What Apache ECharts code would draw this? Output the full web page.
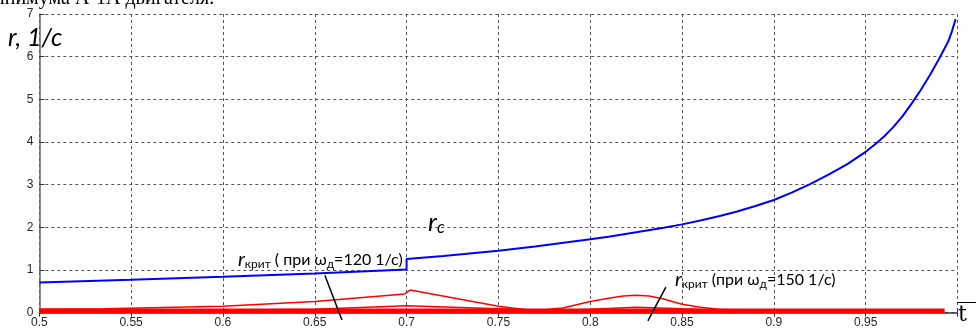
<!DOCTYPE html>
<html>
<head>
<meta charset="utf-8">
<script src="https://cdn.jsdelivr.net/npm/echarts@6/dist/echarts.min.js"></script>
<style>
html,body{margin:0;padding:0;background:#fff;}
#c{width:976px;height:329px;}
</style>
</head>
<body>
<div id="c"></div>
<script>
// ---- data ----
var xTicks = [0.5, 0.55, 0.6, 0.65, 0.7, 0.75, 0.8, 0.85, 0.9, 0.95, 1.0];
var yTicks = [0, 1, 2, 3, 4, 5, 6, 7];

// r_c (blue), including the jump at 0.7
var rcT = [0.5, 0.55, 0.6, 0.65, 0.7, 0.7, 0.72, 0.75, 0.77, 0.8, 0.81, 0.82, 0.83, 0.84, 0.85, 0.86, 0.87, 0.88, 0.89, 0.9, 0.91, 0.92, 0.93, 0.94, 0.95, 0.955, 0.96, 0.965, 0.97, 0.975, 0.98, 0.985, 0.99, 0.995, 0.997, 0.999];
var rcV = [0.71, 0.77, 0.84, 0.92, 1.01, 1.26, 1.33, 1.45, 1.55, 1.72, 1.78, 1.85, 1.92, 1.99, 2.07, 2.16, 2.26, 2.37, 2.5, 2.64, 2.82, 3.02, 3.24, 3.48, 3.77, 3.94, 4.13, 4.35, 4.6, 4.9, 5.22, 5.57, 5.95, 6.36, 6.6, 6.88];

// r_krit, upper red curve
var r1T = [0.5, 0.535, 0.6, 0.65, 0.699, 0.702, 0.75, 0.765, 0.775, 0.785, 0.8, 0.81, 0.818, 0.825, 0.832, 0.84, 0.85, 0.86, 0.87, 0.885, 0.9];
var r1V = [0.08, 0.09, 0.15, 0.26, 0.44, 0.53, 0.15, 0.07, 0.07, 0.11, 0.26, 0.34, 0.39, 0.41, 0.39, 0.32, 0.2, 0.13, 0.08, 0.05, 0.04];

// r_krit, lower red curve
var r2T = [0.58, 0.65, 0.7, 0.75, 0.78, 0.8, 0.825, 0.85, 0.87, 0.9];
var r2V = [0.05, 0.08, 0.16, 0.09, 0.05, 0.08, 0.13, 0.09, 0.06, 0.04];

// near-zero red band
var r3T = [0.5, 0.993];
var r3V = [0.045, 0.045];

// pointer lines for annotations (data coords)
var p1T = [0.6555, 0.6648];
var p1V = [0.88, -0.17];
var p2T = [0.8412, 0.8314];
var p2V = [0.60, -0.19];

function pairs(t, v) { return t.map(function (x, i) { return [x, v[i]]; }); }

var chart = echarts.init(document.getElementById('c'), null, {renderer: 'canvas'});

var gridLine = {show: true, lineStyle: {color: '#555', width: 1, type: [3, 3]}};
var tickFont = {fontFamily: 'Liberation Sans, Arial, sans-serif', fontSize: 12, color: '#262626'};

var option = {
  animation: false,
  backgroundColor: '#fff',
  grid: {left: 39.3, right: 18.5, top: 14, bottom: 16.3, containLabel: false},
  xAxis: [{
    type: 'value', min: 0.5, max: 1.0, interval: 0.05,
    axisLine: {show: true, onZero: false, lineStyle: {color: '#333', width: 1.5}},
    axisTick: {show: true, inside: true, length: 4, lineStyle: {color: '#333'}},
    axisLabel: Object.assign({margin: 4, formatter: function (v) {
      if (Math.abs(v - 1) < 1e-9) return '';
      return String(Math.round(v * 100) / 100);
    }}, tickFont),
    splitLine: gridLine
  }, {
    type: 'value', position: 'top', min: 0.5, max: 1.0, interval: 0.05,
    axisLine: {show: false},
    axisTick: {show: true, inside: true, length: 4, lineStyle: {color: '#333'}},
    axisLabel: {show: false},
    splitLine: {show: false}
  }],
  yAxis: {
    type: 'value', min: 0, max: 7, interval: 1,
    axisLine: {show: true, onZero: false, lineStyle: {color: '#666', width: 1.5}},
    axisTick: {show: true, inside: true, length: 5, lineStyle: {color: '#333'}},
    axisLabel: Object.assign({margin: 6, formatter: function (v) { return String(v); }}, tickFont),
    splitLine: gridLine
  },
  series: [
    {type: 'line', data: pairs(r3T, r3V), showSymbol: false, lineStyle: {color: '#ff0000', width: 4.5}, z: 3},
    {type: 'line', data: pairs(r2T, r2V), showSymbol: false, lineStyle: {color: '#ff0000', width: 1.5}, z: 3},
    {type: 'line', data: pairs(r1T, r1V), showSymbol: false, lineStyle: {color: '#ff0000', width: 1.5}, z: 3},
    {type: 'line', data: pairs(rcT, rcV), showSymbol: false, lineStyle: {color: '#0000ff', width: 2}, z: 4},
    {type: 'line', data: pairs(p1T, p1V), showSymbol: false, clip: false, silent: true, lineStyle: {color: '#000', width: 1.5}, z: 5},
    {type: 'line', data: pairs(p2T, p2V), showSymbol: false, clip: false, silent: true, lineStyle: {color: '#000', width: 1.5}, z: 5}
  ],
  graphic: [
    {type: 'text', left: -6, top: -11, z: 10, style: {
      text: 'инимума А-1А двигателя.', font: '20px "Liberation Serif", "Times New Roman", serif', fill: '#000'}},
    {type: 'text', x: 8, y: 50, z: 10, style: {
      text: 'r, 1/с', font: 'italic 25px Lato, sans-serif', fill: '#000', textVerticalAlign: 'bottom'}},
    {type: 'text', x: 428, y: 236, z: 10, style: {
      text: '{r|r}{s|c}', textVerticalAlign: 'bottom',
      rich: {
        r: {font: 'italic 26px Lato, sans-serif', fill: '#000', lineHeight: 26, verticalAlign: 'middle'},
        s: {font: 'italic 17px Lato, sans-serif', fill: '#000', lineHeight: 14, verticalAlign: 'bottom'}
      }}},
    {type: 'text', x: 238, y: 270, z: 10, style: {
      text: '{r|r}{s|крит}{n| ( при ω}{s|д}{n|=120 1/с)}', textVerticalAlign: 'bottom',
      rich: {
        r: {font: 'italic 20px Lato, sans-serif', fill: '#000', lineHeight: 20, verticalAlign: 'middle'},
        n: {font: '16px Lato, sans-serif', fill: '#000', lineHeight: 20, verticalAlign: 'middle'},
        s: {font: '12px Lato, sans-serif', fill: '#000', lineHeight: 10, verticalAlign: 'bottom'}
      }}},
    {type: 'text', x: 675, y: 290, z: 10, style: {
      text: '{r|r}{s|крит}{n| (при ω}{s|д}{n|=150 1/с)}', textVerticalAlign: 'bottom',
      rich: {
        r: {font: 'italic 20px Lato, sans-serif', fill: '#000', lineHeight: 20, verticalAlign: 'middle'},
        n: {font: '16px Lato, sans-serif', fill: '#000', lineHeight: 20, verticalAlign: 'middle'},
        s: {font: '12px Lato, sans-serif', fill: '#000', lineHeight: 10, verticalAlign: 'bottom'}
      }}},
    {type: 'text', x: 958, y: 326, z: 10, style: {
      text: 't', font: '22px "DejaVu Serif", serif', fill: '#000', textVerticalAlign: 'bottom'}},
    {type: 'line', z: 10, shape: {x1: 957, y1: 302.5, x2: 976, y2: 302.5}, style: {stroke: '#000', lineWidth: 1}}
  ]
};
chart.setOption(option);
</script>
</body>
</html>
